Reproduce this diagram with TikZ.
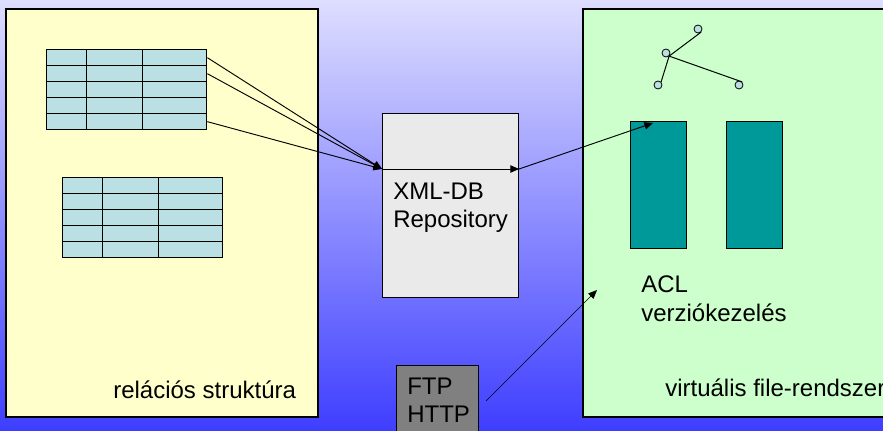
\documentclass[tikz,border=0pt]{standalone}
\usepackage{fontspec}
\setmainfont{Liberation Sans}
\usetikzlibrary{arrows.meta,calc}

\definecolor{bgtop}{RGB}{222,222,255}
\definecolor{bgbot}{RGB}{62,62,255}
\definecolor{relpanel}{RGB}{255,255,204}
\definecolor{fspanel}{RGB}{204,255,204}
\definecolor{cellblue}{RGB}{187,224,227}
\definecolor{repogray}{RGB}{234,234,234}
\definecolor{fsteal}{RGB}{0,153,153}
\definecolor{ftpgray}{RGB}{128,128,128}

\tikzset{
  panel/.style={draw=black, line width=1pt},
  cell/.style={draw=black, line width=1pt, fill=cellblue, inner sep=0pt,
               minimum height=12pt, anchor=north west},
  repo/.style={draw=black, line width=0.8pt, fill=repogray},
  fsblock/.style={draw=black, line width=0.8pt, fill=fsteal},
  treenode/.style={circle, draw=black, line width=0.6pt, fill=cellblue,
                   inner sep=0pt, minimum size=6pt},
  treeedge/.style={line width=0.75pt},
  conn/.style={line width=0.7pt, -{Triangle[length=6.5pt,width=5.5pt]}},
  label/.style={font=\fontsize{18}{21}\selectfont, inner sep=0pt,
                anchor=base west, text=black},
}

\begin{document}
\begin{tikzpicture}[x=0.75pt,y=-0.75pt]
  \clip (0,0) rectangle (883,431);
  % background gradient
  \fill[top color=bgtop, bottom color=bgbot] (0,0) rectangle (883,431);

  % the two panels
  \draw[panel, fill=relpanel] (6,9) rectangle (318,417);
  \draw[panel, fill=fspanel] (583,9) rectangle (900,417);

  % relational tables
  \foreach \r in {1,...,5} {
    \foreach \c/\x/\w in {1/46/40, 2/86/56, 3/142/64} {
      \node[cell, minimum width=\w*0.75pt] (ta-\r-\c) at (\x,{49+16*(\r-1)}) {};
    }
    \foreach \c/\x/\w in {1/62/40, 2/102/56, 3/158/64} {
      \node[cell, minimum width=\w*0.75pt] (tb-\r-\c) at (\x,{177+16*(\r-1)}) {};
    }
  }

  % repository box
  \node[repo, minimum width=102pt, minimum height=138pt, inner sep=0pt,
        anchor=north west] (xml) at (382,113) {};
  \coordinate (xin) at ($(xml.north west)+(0,56)$);
  \coordinate (xout) at ($(xml.north east)+(0,56)$);

  % file-system blocks
  \node[fsblock, minimum width=42pt, minimum height=95.25pt, inner sep=0pt,
        anchor=north west] (fs1) at (630,121) {};
  \node[fsblock, minimum width=42pt, minimum height=95.25pt, inner sep=0pt,
        anchor=north west] (fs2) at (726,121) {};
  \coordinate (fsin) at ($(fs1.north west)+(23,2)$);

  % directory tree
  \node[treenode] (n1) at (698,29) {};
  \node[treenode] (n2) at (666,53) {};
  \node[treenode] (n3) at (658,85) {};
  \node[treenode] (n4) at (739,85) {};
  \draw[treeedge] (n1.south east) -- (n2.south east);
  \draw[treeedge] (n2.south east) -- (n4.north east);
  \draw[treeedge] (n2.south east) -- (n3.north east);

  % FTP / HTTP access box
  \node[draw=black, line width=0.8pt, fill=ftpgray, minimum width=61.5pt,
        minimum height=60pt, inner sep=0pt, anchor=north west] (ftp) at (396,365) {};
  \coordinate (ftpout) at (486,401);
  \coordinate (fsacl) at (597,290);

  % connectors
  \draw[conn] (ta-1-3.east) -- (xin);
  \draw[conn] (ta-2-3.east) -- (xin);
  \draw[conn] (ta-5-3.east) -- (xin);
  \draw[conn] (xin) -- (xout);
  \draw[conn] (xout) -- (fsin);
  \draw[conn, line width=0.5pt] (ftpout) -- (fsacl);

  % texts
  \node[label] (xmlt1) at (393,200) {XML-DB};
  \node[label] (xmlt2) at (393,228) {Repository};
  \node[label] (rel) at (113,398) {relációs struktúra};
  \node[label] (acl) at (641,293) {ACL};
  \node[label] (ver) at (641,322) {verziókezelés};
  \node[label] (vfs) at (665,397) {virtuális file-rendszer};
  \node[label] (ftpt) at (407,394) {FTP};
  \node[label] (httpt) at (407,422) {HTTP};
\end{tikzpicture}
\end{document}
